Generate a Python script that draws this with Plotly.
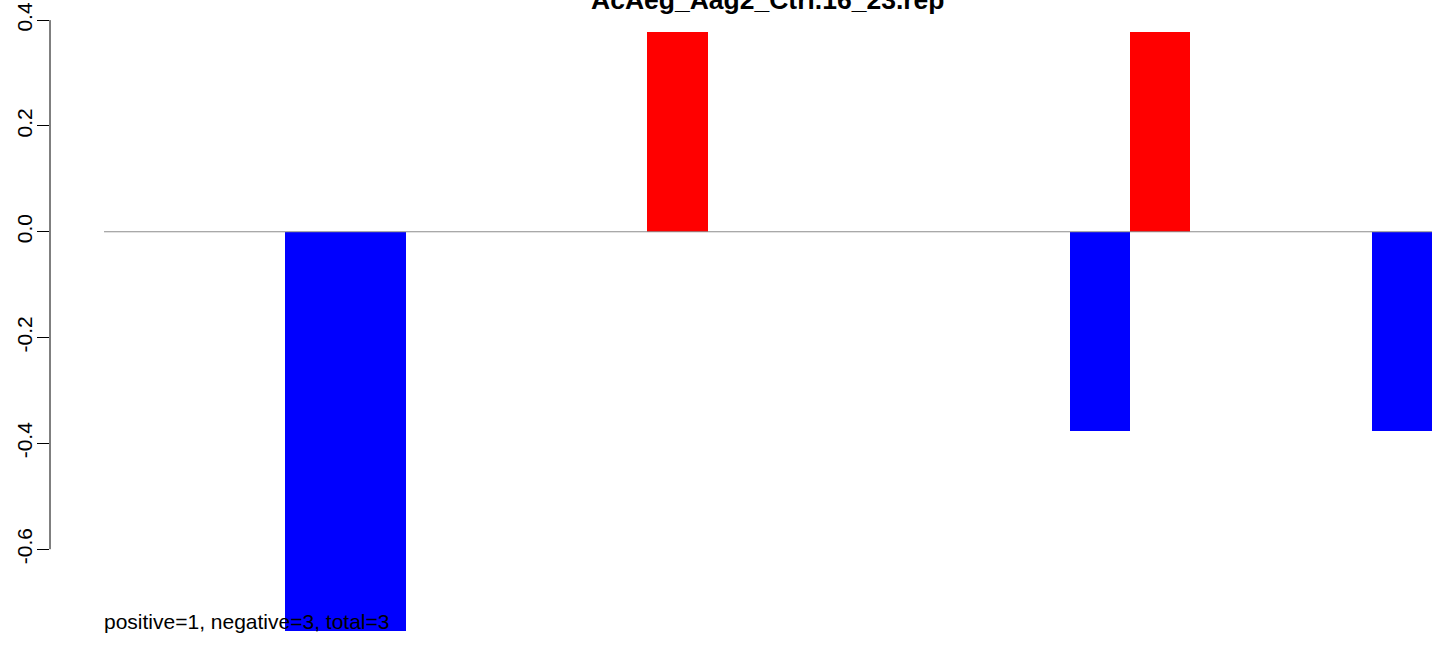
import plotly.graph_objects as go

title = "AcAeg_Aag2_Ctrl.16_23.rep"
note = "positive=1, negative=3, total=3"
slots = list(range(22))
negative = [0, 0, 0, -0.755, -0.755, 0, 0, 0, 0, 0, 0, 0, 0, 0, 0, 0, -0.377, 0, 0, 0, 0, -0.377]
positive = [0, 0, 0, 0, 0, 0, 0, 0, 0, 0.377, 0, 0, 0, 0, 0, 0, 0, 0.377, 0, 0, 0, 0]
yticks = [-0.6, -0.4, -0.2, 0.0, 0.2, 0.4]
ytick_text = ["-0.6", "-0.4", "-0.2", "0.0", "0.2", "0.4"]

FONT = "Liberation Sans, Arial, sans-serif"

fig = go.Figure()
fig.add_trace(go.Bar(x=slots, y=negative, width=1, marker=dict(color="#0000FF", line=dict(width=0)), showlegend=False))
fig.add_trace(go.Bar(x=slots, y=positive, width=1, marker=dict(color="#FF0000", line=dict(width=0)), showlegend=False))

# zero reference line across the bar slots
fig.add_shape(type="line", xref="x", yref="y", x0=slots[0] - 0.5, x1=slots[-1] + 0.5, y0=0, y1=0,
              line=dict(color="#8c8c8c", width=1), layer="above")
# y axis line spanning tick range
fig.add_shape(type="line", xref="paper", yref="y", x0=0, x1=0, y0=min(yticks), y1=max(yticks),
              line=dict(color="black", width=1))

fig.add_annotation(x=slots[0] - 0.5, y=-0.737, xref="x", yref="y", text=note, showarrow=False,
                   xanchor="left", yanchor="middle", xshift=-2,
                   font=dict(family=FONT, size=21, color="black"))
fig.add_annotation(x=(slots[0] + slots[-1]) / 2, y=1, xref="x", yref="paper", text="<b>" + title + "</b>",
                   showarrow=False, xanchor="center", yanchor="bottom", yshift=-17,
                   font=dict(family=FONT, size=26.5, color="black"))

fig.update_layout(
    width=1444, height=645,
    margin=dict(l=50, r=0, t=0, b=0),
    plot_bgcolor="white", paper_bgcolor="white",
    barmode="overlay", bargap=0,
    xaxis=dict(range=[-1.395, 21.70], visible=False, showgrid=False, zeroline=False),
    yaxis=dict(range=[-0.781, 0.438], tickvals=yticks, ticktext=ytick_text, tickangle=-90,
               ticks="outside", ticklen=12, tickcolor="black", showline=False, showgrid=False,
               zeroline=False, ticklabelstandoff=-3,
               tickfont=dict(family=FONT, size=21, color="black")),
    font=dict(family=FONT),
)

fig.write_html("out.html", config={"displayModeBar": False},
               post_script="document.body.style.margin='0px';document.body.style.overflow='hidden';")
